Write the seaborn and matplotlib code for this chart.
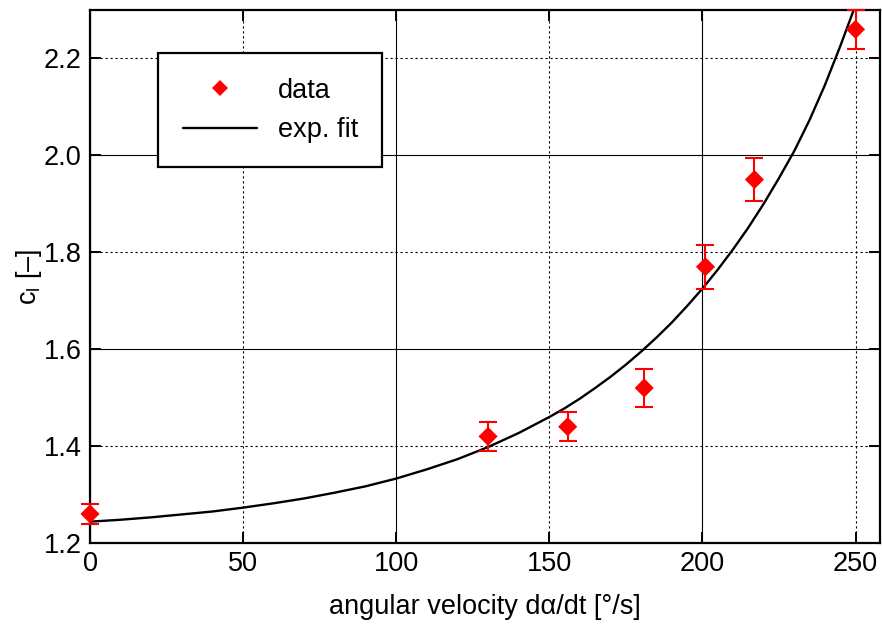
import numpy as np
import pandas as pd
import matplotlib
matplotlib.use("Agg")
import matplotlib.pyplot as plt
from matplotlib.lines import Line2D
import seaborn as sns

# data points
velocity = [0, 130, 156, 181, 201, 217, 250]
cl = [1.26, 1.42, 1.44, 1.52, 1.77, 1.95, 2.26]
cl_err = [0.02, 0.03, 0.03, 0.04, 0.045, 0.045, 0.04]

# exponential fit curve
fit_x = [0, 10, 20, 30, 40, 50, 60, 70, 80, 90, 100, 110, 120, 130, 140,
         150, 155, 160, 165, 170, 175, 180, 185, 190, 195, 200, 205, 210,
         215, 220, 225, 230, 235, 240, 245, 250, 255]
fit_y = [1.244, 1.248, 1.253, 1.259, 1.265, 1.273, 1.282, 1.292, 1.304, 1.317,
         1.333, 1.352, 1.373, 1.398, 1.427, 1.460, 1.478, 1.498, 1.520, 1.543,
         1.568, 1.595, 1.624, 1.655, 1.689, 1.725, 1.764, 1.806, 1.851, 1.900,
         1.953, 2.009, 2.073, 2.145, 2.225, 2.310, 2.400]

x_ticks = [0, 50, 100, 150, 200, 250]
y_ticks = [1.2, 1.4, 1.6, 1.8, 2.0, 2.2]

sns.set_theme(style="ticks")
plt.rcParams["font.family"] = ["Liberation Sans", "DejaVu Sans"]
plt.rcParams["mathtext.fontset"] = "custom"
plt.rcParams["mathtext.rm"] = "Liberation Sans"
plt.rcParams["text.color"] = "black"
plt.rcParams["axes.labelcolor"] = "black"

FS = 19.5

fig = plt.figure(figsize=(8.82, 6.24), dpi=100)
ax = fig.add_axes([90 / 882, 1 - 543 / 624, 790 / 882, 533 / 624])

df = pd.DataFrame({"x": velocity, "y": cl})
fit = pd.DataFrame({"x": fit_x, "y": fit_y})

ax.errorbar(velocity, cl, yerr=cl_err, fmt="none", ecolor="red",
            elinewidth=1.5, capsize=6.5, capthick=1.5, clip_on=False, zorder=3)
sns.scatterplot(data=df, x="x", y="y", marker="D", s=95, color="red",
                edgecolor="none", ax=ax, zorder=4, clip_on=False)
sns.lineplot(data=fit, x="x", y="y", color="black", linewidth=1.7, ax=ax,
             zorder=2, sort=False)

ax.set_xlim(0, 258)
ax.set_ylim(1.2, 2.3)
ax.set_xticks(x_ticks)
ax.set_yticks(y_ticks)
ax.set_xticklabels([str(v) for v in x_ticks])
ax.set_yticklabels([f"{v:.1f}" for v in y_ticks])

ax.tick_params(axis="both", which="major", direction="in", length=8, width=1.4,
               labelsize=FS, colors="black", top=True, right=True, pad=6)
ax.tick_params(axis="y", pad=6)
for s in ax.spines.values():
    s.set_visible(True)
    s.set_linewidth(1.6)
    s.set_color("black")

ax.grid(True, color="black", linewidth=0.8)
for v, gl in zip(x_ticks, ax.get_xgridlines()):
    if v % 100 != 0:
        gl.set_linestyle((0, (2, 2.5)))
for v, gl in zip(y_ticks, ax.get_ygridlines()):
    if round(v * 10) % 4 != 0:
        gl.set_linestyle((0, (2, 2.5)))
ax.set_axisbelow(True)

ax.set_xlabel("angular velocity d\u03b1/dt [\u00b0/s]", fontsize=FS, labelpad=12)
ax.set_ylabel("c$_\\mathregular{l}$ [\u2013]", fontsize=FS, labelpad=0)

handles = [Line2D([], [], marker="D", color="red", linestyle="none", markersize=8.5,
                  markeredgewidth=0),
           Line2D([], [], color="black", linewidth=1.7)]
leg = ax.legend(handles, ["data", "exp. fit"], loc="upper left",
                bbox_to_anchor=(0.0865, 0.919), fontsize=FS, frameon=True,
                fancybox=False, edgecolor="black", framealpha=1,
                handlelength=2.75, handletextpad=0.75, borderpad=0.9,
                labelspacing=0.5, borderaxespad=0)
leg.get_frame().set_linewidth(1.6)

fig.savefig("out.png", dpi=100)
